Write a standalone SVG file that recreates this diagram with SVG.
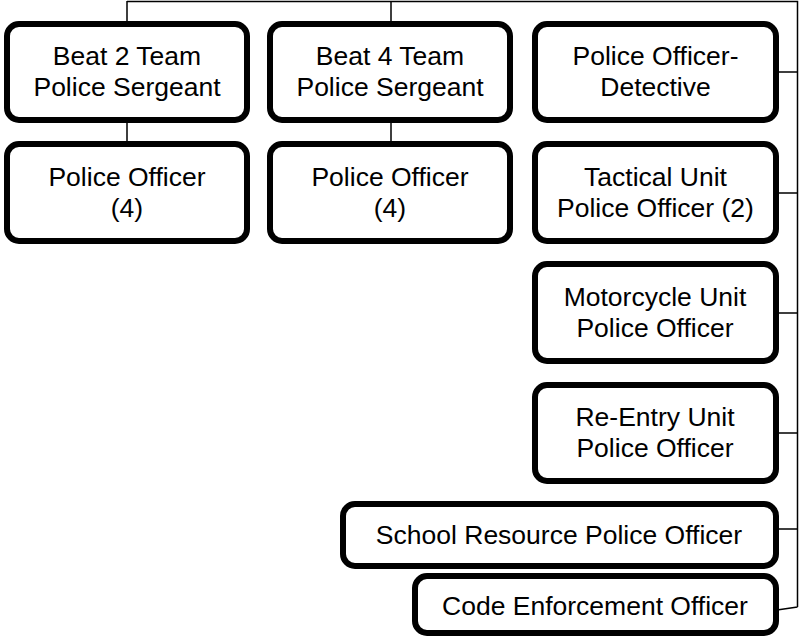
<svg xmlns="http://www.w3.org/2000/svg" width="799" height="637" viewBox="0 0 799 637">
<style>
.box{fill:#fff;stroke:#000;stroke-width:6}
.t{font-family:"Liberation Sans",Arial,sans-serif;font-size:26.5px;fill:#000;text-anchor:middle}
.c{fill:none;stroke:#000;stroke-width:1.5}
</style>
<rect width="799" height="637" fill="#fff"/>
<g id="connectors">
<path class="c" d="M127 1.5H797.5V607M127 1V22M127 122V142M391 1V22M391 122V142M777 72H797.5M777 193H797.5M777 313H797.5M777 433H797.5M777 529H797.5M777 610L797.5 607"/>
</g>
<g id="beat2">
<rect class="box" x="7" y="24" width="240" height="96" rx="12"/>
<text class="t" x="127" y="65">Beat 2 Team</text>
<text class="t" x="127" y="96">Police Sergeant</text>
</g>
<g id="beat2officer">
<rect class="box" x="7" y="144" width="240" height="97" rx="12"/>
<text class="t" x="127" y="185.5">Police Officer</text>
<text class="t" x="127" y="216.5">(4)</text>
</g>
<g id="beat4">
<rect class="box" x="270" y="24" width="240" height="96" rx="12"/>
<text class="t" x="390" y="65">Beat 4 Team</text>
<text class="t" x="390" y="96">Police Sergeant</text>
</g>
<g id="beat4officer">
<rect class="box" x="270" y="144" width="240" height="97" rx="12"/>
<text class="t" x="390" y="185.5">Police Officer</text>
<text class="t" x="390" y="216.5">(4)</text>
</g>
<g id="detective">
<rect class="box" x="535" y="24" width="241" height="96" rx="12"/>
<text class="t" x="655.5" y="65">Police Officer-</text>
<text class="t" x="655.5" y="96">Detective</text>
</g>
<g id="tactical">
<rect class="box" x="535" y="144" width="241" height="97" rx="12"/>
<text class="t" x="655.5" y="185.5">Tactical Unit</text>
<text class="t" x="655.5" y="216.5">Police Officer (2)</text>
</g>
<g id="motorcycle">
<rect class="box" x="535" y="264" width="241" height="97" rx="12"/>
<text class="t" x="655" y="305.5">Motorcycle Unit</text>
<text class="t" x="655" y="336.5">Police Officer</text>
</g>
<g id="reentry">
<rect class="box" x="535" y="385" width="241" height="96" rx="12"/>
<text class="t" x="655" y="426">Re-Entry Unit</text>
<text class="t" x="655" y="457">Police Officer</text>
</g>
<g id="school">
<rect class="box" x="343" y="504" width="433" height="62" rx="12"/>
<text class="t" x="559" y="544">School Resource Police Officer</text>
</g>
<g id="code">
<rect class="box" x="415" y="576" width="361" height="57" rx="12"/>
<text class="t" x="595" y="615">Code Enforcement Officer</text>
</g>
</svg>
